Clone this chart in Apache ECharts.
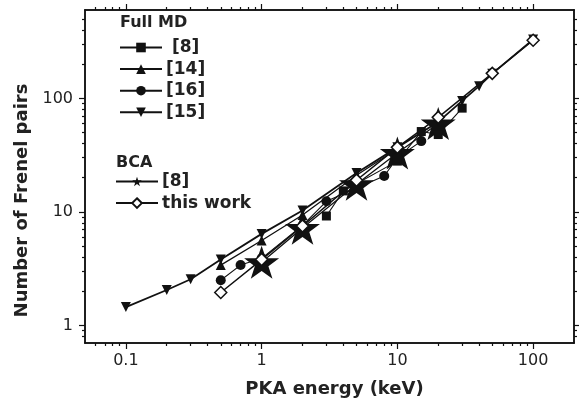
<!DOCTYPE html>
<html><head><meta charset="utf-8">
<script src="https://cdn.jsdelivr.net/npm/echarts@6/dist/echarts.min.js"></script>
<style>html,body{margin:0;padding:0;background:#fff}#c{width:579px;height:404px}</style>
</head><body><div id="c"></div>
<script>
// ---- data (PKA energy keV, number of Frenkel pairs) ----
const md8E  = [3, 4, 10, 15, 20, 30];
const md8N  = [9.2, 15.3, 28, 51, 48, 82];
const md14E = [0.5, 1, 2, 5, 10];
const md14N = [3.4, 5.6, 9.4, 21, 36];
const md16E = [0.5, 0.7, 1, 2, 3, 8, 10, 15];
const md16N = [2.5, 3.4, 3.9, 7.6, 12.4, 20.7, 30, 42];
const md15E = [0.1, 0.2, 0.3, 0.5, 1, 2, 5, 10, 20, 30, 40, 50, 100];
const md15N = [1.45, 2.05, 2.55, 3.8, 6.4, 10.3, 22, 37, 62, 95, 128, 165, 330];
const bca8E = [1, 2, 5, 10, 20];
const bca8N = [3.6, 7.2, 17.5, 33, 60];
const thisE = [0.5, 1, 2, 5, 10, 20, 50, 100];
const thisN = [1.95, 3.8, 7.5, 19, 37, 68, 166, 325];

const xMajor = [0.1, 1, 10, 100];
const xMinor = [0.06,0.07,0.08,0.09,0.2,0.3,0.4,0.5,0.6,0.7,0.8,0.9,2,3,4,5,6,7,8,9,20,30,40,50,60,70,80,90];
const yMajor = [1, 10, 100];
const yMinor = [0.8,0.9,2,3,4,5,6,7,8,9,20,30,40,50,60,70,80,90,200,300,400,500];
const xLabels = ['0.1', '1', '10', '100'];
const yLabels = ['1', '10', '100'];

const zip = (a, b) => a.map((v, i) => [v, b[i]]);
const STAR = 'path://M50,0 L61.8,35.1 L98.9,35.1 L69,57.3 L80.3,92.7 L50,71 L19.7,92.7 L31,57.3 L1.1,35.1 L38.2,35.1 Z';
const INK = '#111';

function axis(dim, pos, ticks, len, labels, extra) {
  const base = dim === 'x' ? {min: 0.05, max: 200} : {min: 0.7, max: 600};
  return Object.assign({
    type: 'log', logBase: 10, position: pos, gridIndex: 0,
    min: base.min, max: base.max,
    axisLine: {show: true, onZero: false, lineStyle: {color: INK, width: 1.5}},
    axisTick: {show: true, inside: false, length: len, customValues: ticks, lineStyle: {color: INK, width: 1.2}},
    axisLabel: labels ? {show: true, customValues: labels.vals,
      formatter: v => labels.txt[labels.vals.findIndex(u => Math.abs(u - v) / u < 1e-6)],
      fontFamily: 'DejaVu Sans', fontSize: 16, color: '#222', margin: labels.margin} : {show: false},
    splitLine: {show: false}, minorTick: {show: false}, minorSplitLine: {show: false}
  }, extra || {});
}

const nameStyle = {fontFamily: 'DejaVu Sans', fontWeight: 'bold', fontSize: 18, color: '#222'};

const option = {
  animation: false,
  backgroundColor: '#fff',
  grid: {left: 85, right: 5, top: 10, bottom: 61, containLabel: false},
  xAxis: [
    axis('x', 'bottom', xMajor, 6, {vals: xMajor, txt: xLabels, margin: 10},
      {name: 'PKA energy (keV)', nameLocation: 'middle', nameGap: 37,
       nameTextStyle: Object.assign({padding: [0, 0, 0, 10]}, nameStyle)}),
    axis('x', 'bottom', xMinor, 3, null),
    axis('x', 'top', xMajor, 6, null),
    axis('x', 'top', xMinor, 3, null)
  ],
  yAxis: [
    axis('y', 'left', yMajor, 6, {vals: yMajor, txt: yLabels, margin: 12},
      {name: 'Number of Frenel pairs', nameLocation: 'middle', nameGap: 44,
       nameTextStyle: Object.assign({padding: [0, 48, 0, 0]}, nameStyle)}),
    axis('y', 'left', yMinor, 3, null),
    axis('y', 'right', yMajor, 6, null),
    axis('y', 'right', yMinor, 3, null)
  ],
  title: [
    {text: 'Full MD', left: 120, top: 15, textStyle: {fontFamily: 'DejaVu Sans', fontWeight: 'bold', fontSize: 16, color: '#222'}, padding: 0},
    {text: 'BCA', left: 116, top: 155, textStyle: {fontFamily: 'DejaVu Sans', fontWeight: 'bold', fontSize: 16, color: '#222'}, padding: 0}
  ],
  legend: [
    {orient: 'vertical', left: 119, top: 39, padding: 0, itemWidth: 42, itemHeight: 12, itemGap: 4.6,
      data: [' [8]', '[14]', '[16]', '[15]'],
      textStyle: {fontFamily: 'DejaVu Sans', fontWeight: 'bold', fontSize: 17, color: '#222', padding: [0, 0, 0, -1]}},
    {orient: 'vertical', left: 115, top: 173, padding: 0, itemWidth: 42, itemHeight: 12, itemGap: 4.6,
      data: ['[8]', 'this work'],
      textStyle: {fontFamily: 'DejaVu Sans', fontWeight: 'bold', fontSize: 17, color: '#222', padding: [0, 0, 0, -1]}}
  ],
  series: [
    {name: '[8]', type: 'line', data: zip(bca8E, bca8N), symbol: STAR, symbolSize: 35, symbolKeepAspect: true,
      lineStyle: {color: INK, width: 1.3}, itemStyle: {color: INK, borderWidth: 0}},
    {name: ' [8]', type: 'line', data: zip(md8E, md8N), symbol: 'rect', symbolSize: 9,
      lineStyle: {color: INK, width: 1.1}, itemStyle: {color: INK, borderWidth: 0}},
    {name: '[14]', type: 'line', data: zip(md14E, md14N), symbol: 'triangle', symbolSize: 10,
      lineStyle: {color: INK, width: 1.3}, itemStyle: {color: INK, borderWidth: 0}},
    {name: '[16]', type: 'line', data: zip(md16E, md16N), symbol: 'circle', symbolSize: 10,
      lineStyle: {color: INK, width: 1.1}, itemStyle: {color: INK, borderWidth: 0}},
    {name: '[15]', type: 'line', data: zip(md15E, md15N), symbol: 'triangle', symbolRotate: 180, symbolSize: 10,
      lineStyle: {color: INK, width: 1.8}, itemStyle: {color: INK, borderWidth: 0}},
    {name: 'this work', type: 'line', data: zip(thisE, thisN), symbol: 'diamond', symbolSize: 12,
      lineStyle: {color: INK, width: 1.5}, itemStyle: {color: '#fff', borderColor: INK, borderWidth: 1.5}}
  ]
};
const chart = echarts.init(document.getElementById('c'), null, {renderer: 'canvas'});
chart.setOption(option);
</script></body></html>
